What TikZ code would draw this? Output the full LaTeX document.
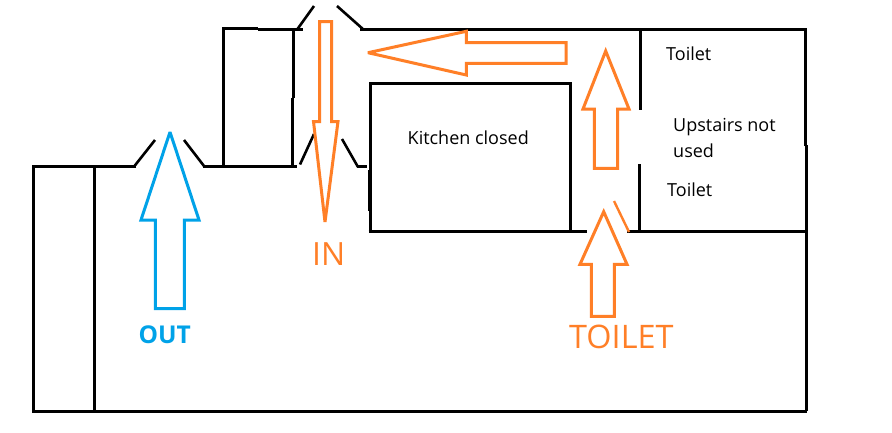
\documentclass[tikz,border=0pt]{standalone}
\usepackage{fontspec}
\setmainfont{Open Sans}
\definecolor{paintorange}{HTML}{FF7F27}
\definecolor{paintblue}{HTML}{00A2E8}
\tikzset{
  wall/.style={draw=black,line width=3pt,line cap=butt,line join=miter},
  leaf/.style={draw=black,line width=2.6pt,line cap=butt},
  orangearrow/.style={draw=paintorange,line width=3pt,line join=miter,miter limit=3},
  bluearrow/.style={draw=paintblue,line width=3pt,line join=miter,miter limit=3},
  note/.style={inner sep=0pt,anchor=base west,text=black,font=\fontsize{18pt}{21pt}\selectfont},
}
\begin{document}
\begin{tikzpicture}[x=1pt,y=-1pt]
\useasboundingbox (0,0) rectangle (892,432);
\fill[white] (0,0) rectangle (892,432);
% walls
\draw[wall] (136,166.5) -- (33.5,166.5) -- (33.5,411) -- (807,411);
\draw[wall] (94,166.5) -- (94,411);
\draw[wall] (806.5,411) -- (806.5,145);
\draw[wall] (805.5,146) -- (805.5,29.5) -- (360,29.5);
\draw[wall] (203,166.5) -- (297,166.5);
\draw[wall] (223.5,166.5) -- (223.5,28.5) -- (258,28.5);
\draw[wall] (258,29.5) -- (303,29.5);
\draw[wall] (293.5,29.5) -- (293.5,98);
\draw[wall] (292.5,98) -- (292.5,166.5);
\draw[wall] (357,166.5) -- (367,166.5);
\draw[wall] (370,231) -- (370,83.5) -- (570.5,83.5) -- (570.5,231);
\draw[wall] (369,170) -- (369,211);
\draw[wall] (368.5,231) -- (587,231);
\draw[wall] (627,231) -- (807,231);
\draw[wall] (640.5,29.5) -- (640.5,110);
\draw[wall] (639.5,164) -- (639.5,233);
% door leaves
\draw[leaf] (134.5,166) -- (155,140);
\draw[leaf] (184,140) -- (204,166);
\draw[leaf] (297.5,29) -- (314,6);
\draw[leaf] (337,6) -- (364,30);
\draw[leaf] (300,164.5) -- (314,134);
\draw[leaf] (342,139) -- (358,167);
% arrows
\draw[orangearrow] (319.5,21.5) -- (331.5,21.5) -- (331.5,121.5) -- (338,121.5) -- (325,222) -- (313.5,121.5) -- (319.5,121.5) -- cycle;
\draw[orangearrow] (368,52.7) -- (466.3,31.3) -- (466.3,42.5) -- (566,42.5) -- (566,63.3) -- (466.3,63.3) -- (466.3,75) -- cycle;
\draw[orangearrow] (605.7,51) -- (629,109) -- (617.7,109) -- (617.7,168.3) -- (594.3,168.3) -- (594.3,109) -- (583,109) -- cycle;
\draw[orangearrow] (603.7,211.7) -- (627,264.3) -- (614.3,264.3) -- (614.3,316.3) -- (591.3,316.3) -- (591.3,264.3) -- (580,264.3) -- cycle;
\draw[paintorange,line width=2.4pt] (614,201) -- (629,232);
\draw[bluearrow] (170,132) -- (199,220) -- (184.3,220) -- (184.3,308.7) -- (155.3,308.7) -- (155.3,220) -- (141,220) -- cycle;
% labels
\node[note] (kitchen) at (407.5,144.7) {Kitchen closed};
\node[note] (toiletA) at (666,60) {Toilet};
\node[note,font=\fontsize{18pt}{21pt}\selectfont] (upstairsA) at (673,131.7) {Upstairs not};
\node[note] (upstairsB) at (673,157.7) {used};
\node[note] (toiletB) at (667,196.7) {Toilet};
\node[inner sep=0pt,anchor=base west,text=paintorange,font=\fontsize{32pt}{36pt}\selectfont] (inlabel) at (312,265) {IN};
\node[inner sep=0pt,anchor=base west,text=paintblue,font=\fontsize{24.5pt}{28pt}\selectfont\bfseries] (outlabel) at (138.5,343) {OUT};
\node[inner sep=0pt,anchor=base west,text=paintorange,font=\fontsize{32.4pt}{36pt}\selectfont] (toiletlabel) at (569,348.3) {TOILET};
\end{tikzpicture}
\end{document}
